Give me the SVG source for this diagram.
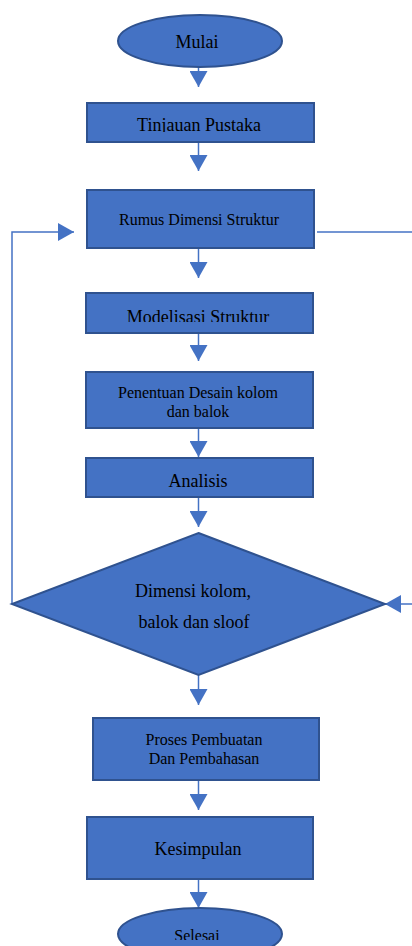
<svg xmlns="http://www.w3.org/2000/svg" width="412" height="946" viewBox="0 0 412 946">
<style>
.shape{fill:#4472C4;stroke:#2F528F;stroke-width:2}
.t{font-family:"Liberation Serif","Times New Roman",serif;fill:#000;text-anchor:middle}
.c{fill:none;stroke:#4472C4;stroke-width:1.5}
</style>
<defs>
<marker id="ah" markerUnits="userSpaceOnUse" markerWidth="18" markerHeight="18" viewBox="0 0 16 18" refX="16" refY="9" orient="auto">
<path d="M0,0 L16,9 L0,18 Z" fill="#4472C4"/>
</marker>
<clipPath id="clipT"><rect x="0" y="100" width="412" height="32"/></clipPath>
<clipPath id="clipM"><rect x="0" y="290" width="412" height="32"/></clipPath>
<clipPath id="clipA"><rect x="0" y="455" width="412" height="32"/></clipPath>
<clipPath id="clipS"><rect x="0" y="900" width="412" height="40"/></clipPath>
</defs>
<g id="connectors">
<line class="c" x1="198.5" y1="67" x2="198.5" y2="87" marker-end="url(#ah)"/>
<line class="c" x1="198.5" y1="142" x2="198.5" y2="171" marker-end="url(#ah)"/>
<line class="c" x1="198.5" y1="248" x2="198.5" y2="278" marker-end="url(#ah)"/>
<line class="c" x1="198.5" y1="333" x2="198.5" y2="361" marker-end="url(#ah)"/>
<line class="c" x1="198.5" y1="428" x2="198.5" y2="457" marker-end="url(#ah)"/>
<line class="c" x1="198.5" y1="497" x2="198.5" y2="527" marker-end="url(#ah)"/>
<line class="c" x1="198.5" y1="675" x2="198.5" y2="705" marker-end="url(#ah)"/>
<line class="c" x1="198.5" y1="780" x2="198.5" y2="810" marker-end="url(#ah)"/>
<line class="c" x1="198.5" y1="879" x2="198.5" y2="908" marker-end="url(#ah)"/>
<polyline class="c" points="12,604 12,232 74,232" marker-end="url(#ah)"/>
<line class="c" x1="317" y1="232" x2="412" y2="232"/>
<line class="c" x1="412" y1="604" x2="385" y2="604" marker-end="url(#ah)"/>
</g>
<g id="mulai">
<ellipse class="shape" cx="200" cy="41" rx="82" ry="26"/>
<text class="t" x="197" y="48" font-size="18">Mulai</text>
</g>
<g id="tinjauan">
<rect class="shape" x="87" y="103" width="227" height="39"/>
<text class="t" x="199" y="131" font-size="18" clip-path="url(#clipT)">Tinjauan Pustaka</text>
</g>
<g id="rumus">
<rect class="shape" x="87" y="190" width="227" height="58"/>
<text class="t" x="199" y="225" font-size="16">Rumus Dimensi Struktur</text>
</g>
<g id="modelisasi">
<rect class="shape" x="86" y="293" width="227" height="40"/>
<text class="t" x="198" y="323" font-size="18" clip-path="url(#clipM)">Modelisasi Struktur</text>
</g>
<g id="penentuan">
<rect class="shape" x="86" y="372" width="227" height="56"/>
<text class="t" x="198" y="398" font-size="16">Penentuan Desain kolom</text>
<text class="t" x="198" y="417" font-size="16">dan balok</text>
</g>
<g id="analisis">
<rect class="shape" x="86" y="458" width="227" height="39"/>
<text class="t" x="198" y="487" font-size="18" clip-path="url(#clipA)">Analisis</text>
</g>
<g id="keputusan">
<polygon class="shape" points="198.5,533 385,604 198.5,675 12,604"/>
<text class="t" x="193" y="597" font-size="18">Dimensi kolom,</text>
<text class="t" x="194" y="628" font-size="18">balok dan sloof</text>
</g>
<g id="proses">
<rect class="shape" x="93" y="718" width="226" height="62"/>
<text class="t" x="204" y="745" font-size="16">Proses Pembuatan</text>
<text class="t" x="204" y="764" font-size="16">Dan Pembahasan</text>
</g>
<g id="kesimpulan">
<rect class="shape" x="87" y="817" width="226" height="62"/>
<text class="t" x="198" y="855" font-size="18">Kesimpulan</text>
</g>
<g id="selesai">
<ellipse class="shape" cx="200" cy="934" rx="82" ry="26"/>
<text class="t" x="197" y="941" font-size="16" clip-path="url(#clipS)">Selesai</text>
</g>
</svg>
